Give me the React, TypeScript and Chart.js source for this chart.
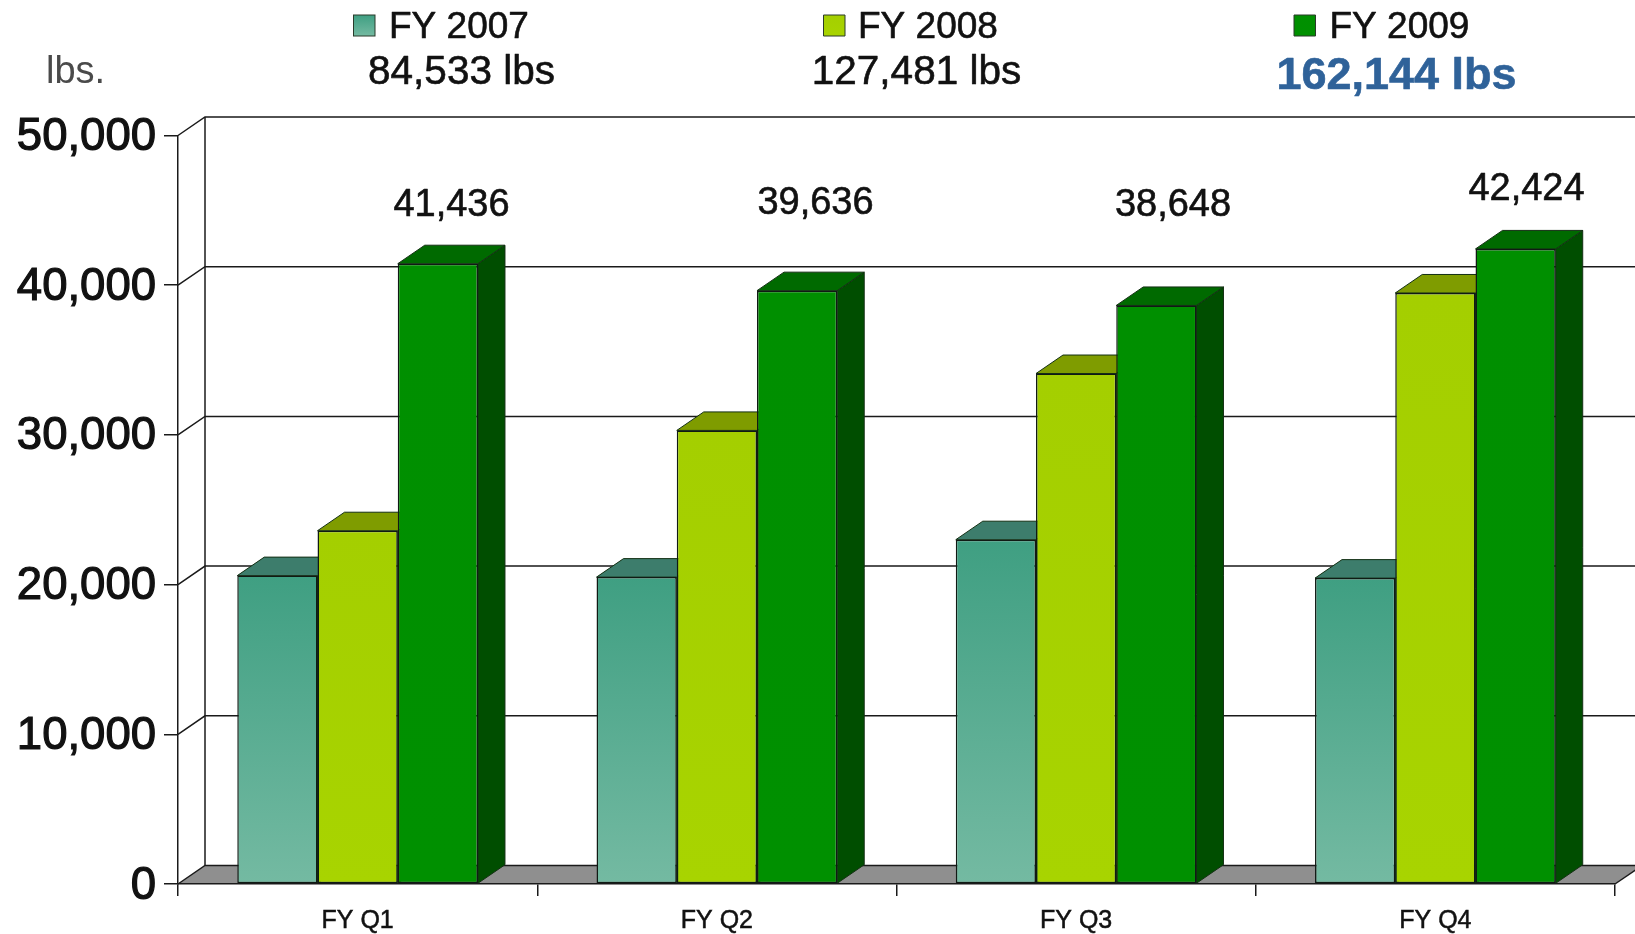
import React, { useEffect, useRef } from "react";
import { Chart, registerables } from "chart.js";

Chart.register(...registerables);

const quarters = ["FY Q1", "FY Q2", "FY Q3", "FY Q4"];
const fy2007 = [20600, 20500, 23000, 20433];
const fy2008 = [23600, 30300, 34100, 39481];
const fy2009 = [41436, 39636, 38648, 42424];
const seriesNames = ["FY 2007", "FY 2008", "FY 2009"];
const seriesTotals = ["84,533 lbs", "127,481 lbs", "162,144 lbs"];
const yTicksMax = 50000;
const yTickStep = 10000;

const FONT = '"Liberation Sans", Arial, sans-serif';
const DEPTH_X = 27;
const DEPTH_Y = 18.5;
const INK = "#1a1a1a";

const fronts = [
  ["#3f9f82", "#74baa2"],
  ["#a4cf00", "#a8d400"],
  ["#008f00", "#009000"],
];
const tops = ["#3d7d6c", "#7f9c00", "#006a00"];
const sides = ["#2f6d5c", "#6c8600", "#004e00"];

const legendSwatchX = [353.5, 823.5, 1294];
const legendNameX = [389, 858, 1329.5];
const legendTotalX = [461.5, 916.5, 1396.5];
const valueLabelX = [451.5, 815.5, 1173, 1526.5];
const valueLabelY = [206, 204, 206, 189.5];

function inkText(ctx: any, text: string, x: number, y: number, stroke: number) {
  ctx.lineWidth = stroke;
  ctx.strokeStyle = ctx.fillStyle;
  ctx.lineJoin = "round";
  ctx.strokeText(text, x, y);
  ctx.fillText(text, x, y);
}

const scene3d = {
  id: "scene3d",
  beforeDatasetsDraw(chart: any) {
    const { ctx, chartArea: a, scales } = chart;
    const y = scales.y;
    ctx.save();
    // floor
    ctx.fillStyle = "#8f8f8f";
    ctx.beginPath();
    ctx.moveTo(a.left, a.bottom);
    ctx.lineTo(a.left + DEPTH_X, a.bottom - DEPTH_Y);
    ctx.lineTo(a.right + DEPTH_X, a.bottom - DEPTH_Y);
    ctx.lineTo(a.right, a.bottom);
    ctx.closePath();
    ctx.fill();
    // wall lines
    ctx.strokeStyle = INK;
    ctx.lineWidth = 1.5;
    y.ticks.forEach((t: any) => {
      const py = y.getPixelForValue(t.value);
      ctx.beginPath();
      ctx.moveTo(a.left, py);
      ctx.lineTo(a.left + DEPTH_X, py - DEPTH_Y);
      ctx.lineTo(a.right + DEPTH_X, py - DEPTH_Y);
      ctx.stroke();
    });
    ctx.beginPath();
    ctx.moveTo(a.left + DEPTH_X, a.top - DEPTH_Y);
    ctx.lineTo(a.left + DEPTH_X, a.bottom - DEPTH_Y);
    ctx.stroke();
    ctx.beginPath();
    ctx.moveTo(a.right, a.bottom);
    ctx.lineTo(a.right + DEPTH_X, a.bottom - DEPTH_Y);
    ctx.stroke();
    // bar depth faces
    ctx.lineWidth = 1;
    chart.data.datasets.forEach((_: any, di: number) => {
      chart.getDatasetMeta(di).data.forEach((bar: any) => {
        const l = bar.x - bar.width / 2;
        const r = bar.x + bar.width / 2;
        ctx.strokeStyle = "#143014";
        ctx.fillStyle = sides[di];
        ctx.beginPath();
        ctx.moveTo(r, bar.y);
        ctx.lineTo(r + DEPTH_X, bar.y - DEPTH_Y);
        ctx.lineTo(r + DEPTH_X, bar.base - DEPTH_Y);
        ctx.lineTo(r, bar.base);
        ctx.closePath();
        ctx.fill();
        ctx.stroke();
        ctx.fillStyle = tops[di];
        ctx.beginPath();
        ctx.moveTo(l, bar.y);
        ctx.lineTo(l + DEPTH_X, bar.y - DEPTH_Y);
        ctx.lineTo(r + DEPTH_X, bar.y - DEPTH_Y);
        ctx.lineTo(r, bar.y);
        ctx.closePath();
        ctx.fill();
        ctx.stroke();
      });
    });
    ctx.restore();
  },
  afterDraw(chart: any) {
    const { ctx } = chart;
    ctx.save();
    ctx.textBaseline = "middle";
    ctx.textAlign = "left";
    ctx.fillStyle = "#4a4a4a";
    ctx.font = `38px ${FONT}`;
    ctx.fillText("lbs.", 46, 73);
    seriesNames.forEach((name, i) => {
      const g = ctx.createLinearGradient(0, 15, 0, 36);
      g.addColorStop(0, fronts[i][0]);
      g.addColorStop(1, fronts[i][1]);
      ctx.fillStyle = g;
      ctx.strokeStyle = "#2a3a2a";
      ctx.lineWidth = 1;
      ctx.fillRect(legendSwatchX[i], 15, 21.5, 21);
      ctx.strokeRect(legendSwatchX[i], 15, 21.5, 21);
      ctx.fillStyle = "#111";
      ctx.textAlign = "left";
      ctx.font = `37px ${FONT}`;
      inkText(ctx, name, legendNameX[i], 28, 0.6);
      ctx.textAlign = "center";
      const last = i === seriesNames.length - 1;
      ctx.fillStyle = last ? "#2f6299" : "#111";
      ctx.font = last ? `bold 45px ${FONT}` : `40.5px ${FONT}`;
      inkText(ctx, seriesTotals[i], legendTotalX[i], last ? 77 : 73, last ? 0 : 0.6);
    });
    ctx.textAlign = "center";
    ctx.fillStyle = "#111";
    ctx.font = `38px ${FONT}`;
    fy2009.forEach((v, i) => {
      inkText(ctx, v.toLocaleString("en-US"), valueLabelX[i], valueLabelY[i], 0.6);
    });
    ctx.restore();
  },
};

function barGradient(i: number) {
  return (c: any) => {
    const { chart } = c;
    const a = chart.chartArea;
    if (!a) return fronts[i][0];
    const top = chart.scales.y.getPixelForValue(c.raw ?? 0);
    const g = chart.ctx.createLinearGradient(0, top, 0, a.bottom);
    g.addColorStop(0, fronts[i][0]);
    g.addColorStop(1, fronts[i][1]);
    return g;
  };
}

export default function App() {
  const ref = useRef<HTMLCanvasElement>(null);
  useEffect(() => {
    const chart = new Chart(ref.current as HTMLCanvasElement, {
      type: "bar",
      data: {
        labels: quarters,
        datasets: [fy2007, fy2008, fy2009].map((data, i) => ({
          label: seriesNames[i],
          data,
          backgroundColor: barGradient(i),
          borderColor: "#101a14",
          borderWidth: 1.5,
          borderSkipped: false,
          categoryPercentage: 0.67,
          barPercentage: 1,
        })),
      },
      plugins: [scene3d],
      options: {
        animation: false,
        responsive: false,
        devicePixelRatio: 1,
        layout: { padding: { top: 135.5, right: 20, left: 0, bottom: 0 } },
        plugins: { legend: { display: false }, tooltip: { enabled: false }, title: { display: false } },
        scales: {
          x: {
            afterFit: (s: any) => { s.height = 50; },
            grid: { drawOnChartArea: false, drawTicks: true, tickLength: 12, color: INK, lineWidth: 1.5, z: 1 },
            border: { display: true, color: INK, width: 1.5, z: 2 },
            ticks: {
              color: "#111",
              font: { family: FONT, size: 25 },
              padding: 10,
              autoSkip: false,
              maxRotation: 0,
              textStrokeColor: "#111",
              textStrokeWidth: 0.5,
            },
          },
          y: {
            min: 0,
            max: yTicksMax,
            afterFit: (s: any) => { s.width = 178; },
            grid: { drawOnChartArea: false, drawTicks: true, tickLength: 14, color: INK, lineWidth: 1.5, z: 1 },
            border: { display: true, color: INK, width: 1.5, z: 2 },
            ticks: {
              stepSize: yTickStep,
              color: "#111",
              font: { family: FONT, size: 45.5 },
              padding: 8,
              labelOffset: 2,
              textStrokeColor: "#111",
              textStrokeWidth: 1.2,
              callback: (v: any) => Number(v).toLocaleString("en-US"),
            },
          },
        },
      },
    });
    return () => chart.destroy();
  }, []);
  return (
    <div style={{ position: "fixed", left: 0, top: 0, width: 1635, height: 934, background: "#fff", overflow: "hidden" }}>
      <canvas ref={ref} width={1635} height={934} style={{ display: "block" }} />
    </div>
  );
}
